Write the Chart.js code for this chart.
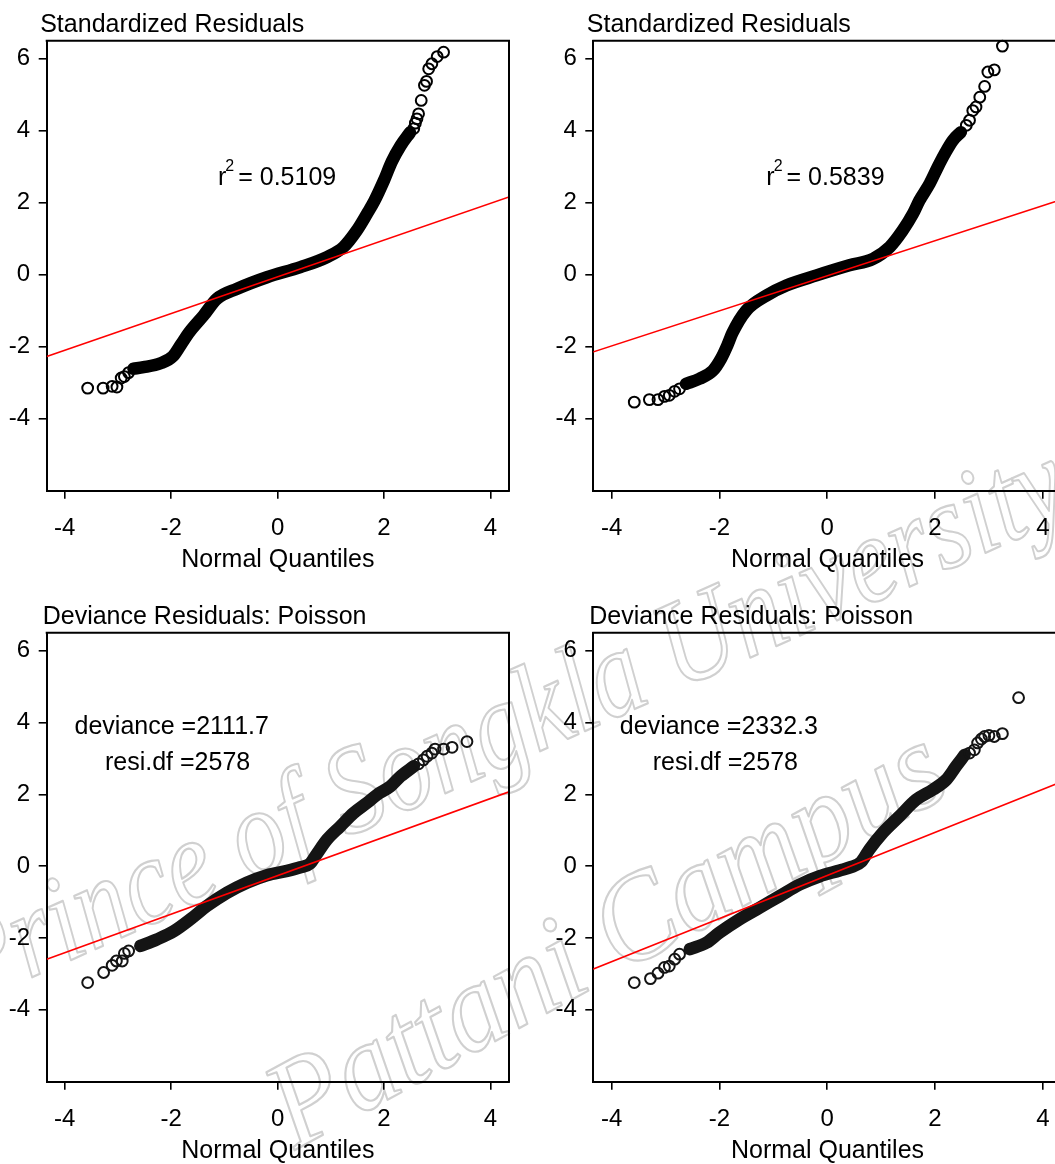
<!DOCTYPE html>
<html>
<head>
<meta charset="utf-8">
<title>QQ plots of residuals</title>
<script src="https://cdn.jsdelivr.net/npm/chart.js@4.4.1/dist/chart.umd.min.js"></script>
<style>
  html, body { margin: 0; padding: 0; background: #fff; overflow: hidden; width: 1055px; height: 1164px; }
  canvas { position: absolute; }
</style>
</head>
<body>
<canvas id="mark" width="1055" height="1164" style="left:0;top:0"></canvas>
<canvas id="qq1"></canvas>
<canvas id="qq2"></canvas>
<canvas id="qq3"></canvas>
<canvas id="qq4"></canvas>
<script>
// ---- data ----
var xTicks = [-4, -2, 0, 2, 4];
var yTicks = [6, 4, 2, 0, -2, -4];
var xRange = [-4.34, 4.35];
var yRange = [-6, 6.5];

var titles = ["Standardized Residuals", "Standardized Residuals",
              "Deviance Residuals: Poisson", "Deviance Residuals: Poisson"];
var xTitle = "Normal Quantiles";
var rSquared = ["0.5109", "0.5839"];
var devianceVals = ["2111.7", "2332.3"];
var residDf = ["2578", "2578"];
var watermark = ["Prince of Songkla University", "Pattani Campus"];

// dense middle part of each plot (overlapping circles -> drawn as one thick band)
var band1 = [[-2.71,-2.61],[-2.52,-2.57],[-2.20,-2.46],[-1.97,-2.27],[-1.82,-1.95],[-1.66,-1.60],
             [-1.39,-1.13],[-1.14,-0.67],[-0.76,-0.39],[-0.20,-0.07],[0.43,0.21],[0.93,0.49],
             [1.24,0.77],[1.49,1.23],[1.68,1.69],[1.82,2.05],[2.00,2.62],[2.15,3.15],[2.31,3.58],[2.49,3.95]];
var band2 = [[-2.62,-3.03],[-2.37,-2.89],[-2.12,-2.66],[-1.97,-2.33],[-1.85,-1.95],[-1.76,-1.62],
             [-1.50,-0.99],[-1.13,-0.58],[-0.76,-0.30],[-0.20,-0.02],[0.41,0.26],[0.85,0.44],
             [1.16,0.77],[1.40,1.23],[1.59,1.69],[1.71,2.06],[1.90,2.53],[2.05,2.99],[2.18,3.36],
             [2.33,3.73],[2.48,3.96]];
var band3 = [[-2.58,-2.22],[-2.27,-2.04],[-1.95,-1.81],[-1.64,-1.48],[-1.33,-1.11],[-0.95,-0.74],
             [-0.58,-0.46],[-0.20,-0.25],[0.18,-0.13],[0.43,-0.03],[0.61,0.07],[0.71,0.28],
             [0.93,0.74],[1.18,1.11],[1.43,1.48],[1.68,1.76],[1.87,1.99],[2.12,2.22],[2.31,2.50],[2.56,2.78]];
var band4 = [[-2.55,-2.31],[-2.24,-2.13],[-2.00,-1.85],[-1.63,-1.48],[-1.26,-1.16],[-0.88,-0.83],
             [-0.51,-0.51],[-0.14,-0.28],[0.23,-0.12],[0.45,-0.02],[0.63,0.12],[0.78,0.46],
             [1.03,0.93],[1.34,1.39],[1.65,1.85],[1.96,2.13],[2.21,2.41],[2.39,2.78],[2.55,3.10]];

// single circles in both tails
var tail1 = [[-3.57,-3.15],[-3.28,-3.15],[-3.11,-3.10],[-3.02,-3.12],[-2.94,-2.87],[-2.88,-2.83],[-2.80,-2.72],
             [2.56,4.06],[2.59,4.21],[2.62,4.33],[2.65,4.47],[2.70,4.84],[2.76,5.26],[2.80,5.37],
             [2.84,5.72],[2.90,5.86],[3.00,6.06],[3.12,6.18]];
var tail2 = [[-3.58,-3.54],[-3.30,-3.47],[-3.14,-3.47],[-3.02,-3.38],[-2.93,-3.35],[-2.83,-3.24],[-2.74,-3.17],
             [2.58,4.15],[2.64,4.29],[2.70,4.56],[2.76,4.66],[2.83,4.93],[2.92,5.23],[2.98,5.63],
             [3.10,5.69],[3.25,6.35]];
var tail3 = [[-3.57,-3.24],[-3.27,-2.96],[-3.11,-2.76],[-3.03,-2.64],[-2.92,-2.64],[-2.88,-2.43],[-2.80,-2.36],
             [2.65,2.85],[2.74,2.96],[2.81,3.06],[2.90,3.15],[2.96,3.26],[3.12,3.26],[3.28,3.31],[3.56,3.47]];
var tail4 = [[-3.58,-3.24],[-3.28,-3.13],[-3.14,-2.98],[-3.02,-2.82],[-2.93,-2.78],[-2.83,-2.59],[-2.74,-2.45],
             [2.64,3.15],[2.73,3.24],[2.79,3.43],[2.86,3.54],[2.92,3.61],[3.00,3.64],[3.10,3.61],
             [3.25,3.69],[3.55,4.69]];

// end points of the red reference lines
var fit1 = [[-4.34,-2.27],[4.35,2.16]];
var fit2 = [[-4.35,-2.15],[4.35,2.09]];
var fit3 = [[-4.34,-2.59],[4.35,2.07]];
var fit4 = [[-4.35,-2.87],[4.35,2.35]];

// ---- layout ----
var fontFamily = "'Liberation Sans', Arial, Helvetica, sans-serif";
Chart.defaults.font.family = fontFamily;
Chart.defaults.color = '#000';

var panels = [
  { id: 'qq1', idx: 0, kind: 'std', band: band1, tail: tail1, fit: fit1, bandColor: '#000',
    left: 0, top: 0, width: 530, height: 590, padTop: 40.7, padRight: 21, yAxisW: 46.7, xAxisH: 99.3,
    titleDx: -6.5, noteX: -1.12, noteY: 2.5 },
  { id: 'qq2', idx: 1, kind: 'std', band: band2, tail: tail2, fit: fit2, bandColor: '#000',
    left: 540, top: 0, width: 540, height: 590, padTop: 40.7, padRight: 18.3, yAxisW: 53.3, xAxisH: 99.3,
    titleDx: -6.5, noteX: -1.13, noteY: 2.5 },
  { id: 'qq3', idx: 0, kind: 'dev', band: band3, tail: tail3, fit: fit3, bandColor: '#141414',
    left: 0, top: 590, width: 530, height: 590, padTop: 42.7, padRight: 21, yAxisW: 46.7, xAxisH: 98.3,
    titleDx: -4, noteX: -1.99, noteY: 3.69, noteX2: -1.88, noteY2: 2.69 },
  { id: 'qq4', idx: 1, kind: 'dev', band: band4, tail: tail4, fit: fit4, bandColor: '#141414',
    left: 540, top: 590, width: 540, height: 590, padTop: 42.7, padRight: 18.3, yAxisW: 53.3, xAxisH: 98.3,
    titleDx: -4, noteX: -2.01, noteY: 3.69, noteX2: -1.89, noteY2: 2.69 }
];

function toXY(list) {
  return list.map(function (p) { return { x: p[0], y: p[1] }; });
}

function tickList(values) {
  return values.map(function (v) { return { value: v }; });
}

// frame top/right, panel title and the text note inside the plot
function makeDecor(panel) {
  return {
    id: 'decor_' + panel.id,
    afterDraw: function (chart) {
      var ctx = chart.ctx, area = chart.chartArea,
          xs = chart.scales.x, ys = chart.scales.y;
      ctx.save();
      ctx.strokeStyle = '#000';
      ctx.lineWidth = 2;
      ctx.beginPath();
      ctx.moveTo(area.left - 1, area.top);
      ctx.lineTo(area.right, area.top);
      ctx.lineTo(area.right, area.bottom + 1);
      ctx.stroke();

      ctx.fillStyle = '#000';
      ctx.textAlign = 'left';
      ctx.textBaseline = 'alphabetic';
      ctx.font = '25px ' + fontFamily;
      ctx.fillText(titles[panel.id.slice(2) - 1], area.left + panel.titleDx, area.top - 9);

      if (panel.kind === 'std') {
        var x0 = xs.getPixelForValue(panel.noteX),
            y0 = ys.getPixelForValue(panel.noteY);
        ctx.fillText('r', x0, y0);
        var rw = ctx.measureText('r').width;
        ctx.font = '16px ' + fontFamily;
        ctx.fillText('2', x0 + rw - 1, y0 - 14);
        var sw = ctx.measureText('2').width;
        ctx.font = '25px ' + fontFamily;
        ctx.fillText('= ' + rSquared[panel.idx], x0 + rw + sw + 3, y0);
      } else {
        ctx.textAlign = 'center';
        ctx.fillText('deviance =' + devianceVals[panel.idx],
                     xs.getPixelForValue(panel.noteX), ys.getPixelForValue(panel.noteY));
        ctx.fillText('resi.df =' + residDf[panel.idx],
                     xs.getPixelForValue(panel.noteX2), ys.getPixelForValue(panel.noteY2));
      }
      ctx.restore();
    }
  };
}

function drawWatermark() {
  var c = document.getElementById('mark').getContext('2d');
  var lines = [
    { text: watermark[0], x: -30, y: 1005, angle: -24, length: 1210 },
    { text: watermark[1], x: 295, y: 1150, angle: -28.5, length: 750 }
  ];
  c.strokeStyle = '#d0d0d0';
  c.lineWidth = 2.2;
  c.lineJoin = 'round';
  c.font = "italic 125px 'Liberation Serif', 'DejaVu Serif', serif";
  lines.forEach(function (l) {
    var w = c.measureText(l.text).width;
    c.save();
    c.translate(l.x, l.y);
    c.rotate(l.angle * Math.PI / 180);
    c.scale(l.length / w, 1);
    c.strokeText(l.text, 0, 0);
    c.restore();
  });
}

drawWatermark();

panels.forEach(function (panel) {
  var canvas = document.getElementById(panel.id);
  canvas.width = panel.width;
  canvas.height = panel.height;
  canvas.style.left = panel.left + 'px';
  canvas.style.top = panel.top + 'px';

  new Chart(canvas, {
    type: 'scatter',
    data: {
      datasets: [
        { data: toXY(panel.fit), showLine: true, borderColor: '#ff0000', borderWidth: 1.6,
          pointRadius: 0 },
        { data: toXY(panel.tail), pointRadius: 5.4, pointBorderWidth: 2,
          pointBorderColor: panel.bandColor, pointBackgroundColor: 'rgba(0,0,0,0)', clip: false },
        { data: toXY(panel.band), showLine: true, borderColor: panel.bandColor, borderWidth: 12.5,
          pointRadius: 0, cubicInterpolationMode: 'monotone',
          borderCapStyle: 'round', borderJoinStyle: 'round' }
      ]
    },
    options: {
      responsive: false,
      animation: false,
      events: [],
      layout: { padding: { top: panel.padTop, right: panel.padRight, left: 0, bottom: 0 } },
      plugins: { legend: { display: false }, tooltip: { enabled: false } },
      scales: {
        x: {
          type: 'linear', min: xRange[0], max: xRange[1], bounds: 'data',
          afterBuildTicks: function (s) { s.ticks = tickList(xTicks); },
          afterFit: function (s) { s.height = panel.xAxisH; },
          grid: { drawOnChartArea: false, drawTicks: true, tickLength: 8, color: '#000', lineWidth: 1.6 },
          border: { display: true, color: '#000', width: 2 },
          ticks: { font: { size: 24 }, color: '#000', padding: 15, maxRotation: 0, autoSkip: false,
                   callback: function (v) { return String(v); } },
          title: { display: true, text: xTitle, font: { size: 25 }, color: '#000',
                   padding: { top: 0, bottom: panel.xAxisH - 84.5 } }
        },
        y: {
          type: 'linear', min: yRange[0], max: yRange[1], bounds: 'data',
          afterBuildTicks: function (s) { s.ticks = tickList(yTicks); },
          afterFit: function (s) { s.width = panel.yAxisW; },
          grid: { drawOnChartArea: false, drawTicks: true, tickLength: 8, color: '#000', lineWidth: 1.6 },
          border: { display: true, color: '#000', width: 2 },
          ticks: { font: { size: 24 }, color: '#000', padding: 8.5, autoSkip: false,
                   callback: function (v) { return String(v); } }
        }
      }
    },
    plugins: [makeDecor(panel)]
  });
});
</script>
</body>
</html>
